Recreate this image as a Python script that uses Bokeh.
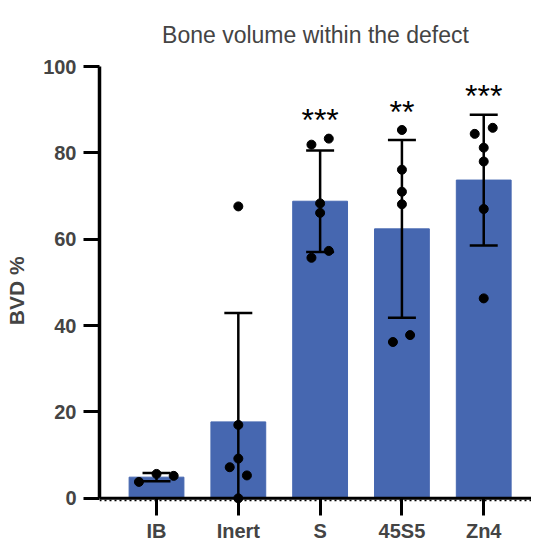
from bokeh.plotting import figure
from bokeh.models import Range1d, FixedTicker, Span
from bokeh.embed import file_html
from bokeh.resources import INLINE

# ---- data ----
title_text = "Bone volume within the defect"
categories = ["IB", "Inert", "S", "45S5", "Zn4"]
means = [4.9, 17.7, 68.8, 62.4, 73.7]
sds = [0.95, 25.2, 11.75, 20.6, 15.15]
significance = ["", "", "***", "**", "***"]

ib_pts = [3.8, 5.65, 5.2]
inert_pts = [67.6, 17.0, 9.2, 7.2, 5.3, 0.0]
s_pts = [81.9, 83.3, 68.3, 66.1, 55.7, 57.3]
s45_pts = [85.3, 76.1, 71.0, 68.1, 36.2, 37.8]
zn4_pts = [84.4, 85.8, 81.2, 78.0, 67.0, 46.3]

# horizontal jitter of each point (category units)
ib_jit = [-0.215, 0.0, 0.21]
inert_jit = [0.0, 0.0, 0.0, -0.105, 0.105, 0.0]
s_jit = [-0.106, 0.106, 0.0, 0.0, -0.106, 0.106]
s45_jit = [0.0, 0.0, 0.0, 0.0, -0.11, 0.10]
zn4_jit = [-0.11, 0.11, 0.0, 0.0, 0.0, 0.0]

points = [ib_pts, inert_pts, s_pts, s45_pts, zn4_pts]
jitters = [ib_jit, inert_jit, s_jit, s45_jit, zn4_jit]

FONT = "Liberation Sans"
BLUE = "#4667B0"

xc = [i + 0.5 for i in range(len(categories))]
lo = [m - s for m, s in zip(means, sds)]
hi = [m + s for m, s in zip(means, sds)]

x_range = Range1d(-0.197, 5.084)
y_range = Range1d(-1.2, 100)

p = figure(
    width=531, height=544,
    x_range=x_range, y_range=y_range,
    output_backend="svg", toolbar_location=None,
    min_border_left=99, min_border_right=0, min_border_top=66, min_border_bottom=37,
    background_fill_color="white", border_fill_color="white",
)
p.outline_line_color = None
p.xgrid.visible = False
p.ygrid.visible = False

p.title.text = title_text
p.title.align = "center"
p.title.offset = 2
p.title.text_font = FONT
p.title.text_font_size = "23px"
p.title.text_font_style = "normal"
p.title.standoff = 37

# bars
p.vbar(x=xc, top=means, bottom=0, width=0.67, fill_color=BLUE, line_color=BLUE, line_width=1)

# baseline (x axis line at 0) and dotted edge under it
p.add_layout(Span(location=0, dimension="width", line_color="black", line_width=3))
p.add_layout(Span(location=-0.5, dimension="width", line_color="black",
                  line_dash="2 3", line_width=1.5))

# error bars
cap = 0.171
p.segment(x0=xc, y0=lo, x1=xc, y1=hi, line_color="black", line_width=2.5)
p.segment(x0=[x - cap for x in xc], y0=hi, x1=[x + cap for x in xc], y1=hi,
          line_color="black", line_width=2.5)
p.segment(x0=[x - cap for x in xc], y0=lo, x1=[x + cap for x in xc], y1=lo,
          line_color="black", line_width=2.5)

# points
px, py = [], []
for x, pts, jit in zip(xc, points, jitters):
    for v, j in zip(pts, jit):
        px.append(x + j)
        py.append(v)
p.scatter(px, py, size=9, fill_color="black", line_color="black")

# significance stars
sx, sy, st = [], [], []
for x, pts, h, s in zip(xc, points, hi, significance):
    if s:
        sx.append(x)
        sy.append(max(max(pts), h) + 5.4)
        st.append(s)
p.text(x=sx, y=sy, text=st, text_align="center", text_baseline="middle", y_offset=5,
       text_font={"value": FONT}, text_font_size="32px", text_color="black")

# y axis
ya = p.yaxis[0]
ya.ticker = FixedTicker(ticks=[0, 20, 40, 60, 80, 100])
ya.bounds = (0, 100)
ya.axis_label = "BVD %\u00a0\u00a0"
ya.axis_label_text_font = FONT
ya.axis_label_text_font_size = "21px"
ya.axis_label_text_font_style = "bold"
ya.axis_label_standoff = 12
ya.major_label_text_font = FONT
ya.major_label_text_font_size = "20px"
ya.major_label_text_font_style = "bold"
ya.major_label_standoff = 7
ya.major_tick_out = 16
ya.major_tick_in = 0
ya.minor_tick_out = 0
ya.minor_tick_in = 0
ya.axis_line_width = 3.5
ya.major_tick_line_width = 3

# x axis (line drawn by the span at 0; ticks reach up to 0)
xa = p.xaxis[0]
xa.ticker = FixedTicker(ticks=xc)
xa.major_label_overrides = {x: c for x, c in zip(xc, categories)}
xa.major_label_text_font = FONT
xa.major_label_text_font_size = "20px"
xa.major_label_text_font_style = "bold"
xa.major_label_standoff = 4
xa.major_tick_out = 12
xa.major_tick_in = 5
xa.minor_tick_out = 0
xa.minor_tick_in = 0
xa.axis_line_color = None
xa.major_tick_line_width = 3

open("out.html", "w").write(file_html(p, INLINE))
